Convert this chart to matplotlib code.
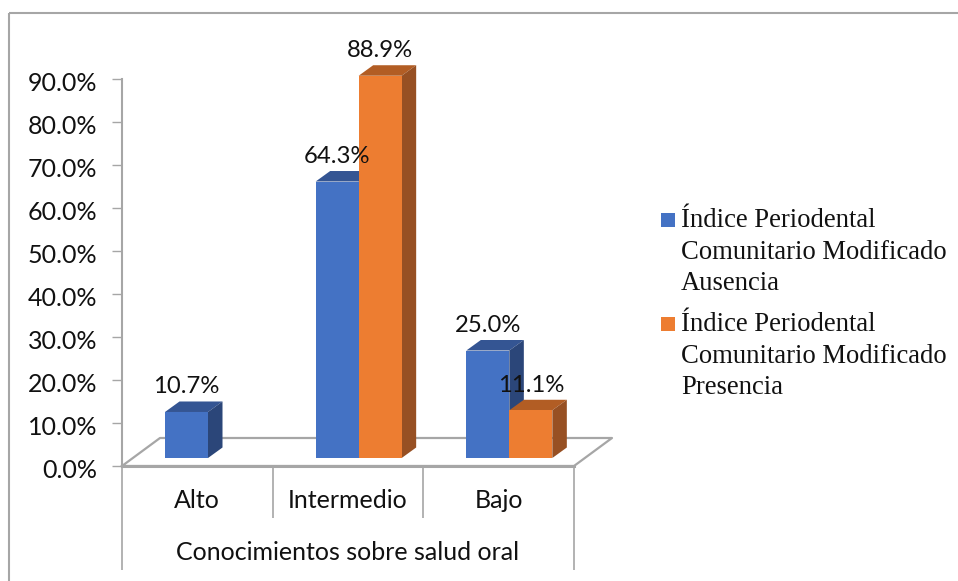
import matplotlib
matplotlib.use('Agg')
import matplotlib.pyplot as plt
from matplotlib.patches import Polygon, Rectangle
from matplotlib.lines import Line2D
from matplotlib.transforms import ScaledTranslation

# Data
categories = ['Alto', 'Intermedio', 'Bajo']
axis_title = 'Conocimientos sobre salud oral'
series_names = ['Índice Periodental\nComunitario Modificado\nAusencia',
                'Índice Periodental\nComunitario Modificado\nPresencia']
ausencia = [10.7, 64.3, 25.0]
presencia = [0, 88.9, 11.1]
y_ticks = [0, 10, 20, 30, 40, 50, 60, 70, 80, 90]

W, H = 958, 581
GREY = '#a6a6a6'
TEXT = '#111111'
front_colors = ['#4472c4', '#ed7d31']
top_colors = ['#345593', '#b25d24']
side_colors = ['#2b4679', '#975023']
SANS = 'Lato'
SERIF = 'Liberation Serif'

fig = plt.figure(figsize=(W / 100, H / 100), dpi=100)

# Axes box in pixels: left 122, right 574, y=0 at 466, y=90 at 79
ax = fig.add_axes([122 / W, 1 - 466 / H, (574 - 122) / W, (466 - 79) / H])
ax.set_xlim(0, 3)
ax.set_ylim(0, 90)
ax.patch.set_visible(False)
for s in ['top', 'right', 'bottom']:
    ax.spines[s].set_visible(False)
ax.spines['left'].set_color(GREY)
ax.spines['left'].set_linewidth(1.5)

px_x = 3 / 452  # one pixel in x data units
px_y = 90 / 387  # one pixel in y data units
depth_x = 14.5 * px_x
depth_y = 10.5 * px_y
base = 8 * px_y
bar_w = 43 * px_x


def pline(xs, ys, lw=1.5):
    # grey line given in figure pixels
    fig.add_artist(Line2D([x / W for x in xs], [1 - y / H for y in ys],
                          color=GREY, lw=lw, solid_capstyle='butt'))


# Outer frame, only top and left are visible
pline([8.5, 958], [13, 13], 1.5)
pline([9, 9], [13, 581], 1.5)

# Floor of the 3D chart
ax.plot([0, 38 * px_x, 3 + 38 * px_x, 3, 0],
        [0, 28 * px_y, 28 * px_y, 0, 0], color=GREY, lw=1.6, clip_on=False, zorder=1)
ax.plot([0, 3], [0, 0], color=GREY, lw=2.2, clip_on=False, zorder=1)

# Category separators below the axis
for i in range(4):
    bottom = 570 if i in (0, 3) else 518
    x = 122 + i * 452 / 3
    pline([x, x], [466, bottom], 1.2)

ax.set_yticks(y_ticks)
ax.set_yticklabels([f'{v:.1f}%' for v in y_ticks], fontsize=18, family=SANS, color=TEXT)
ax.tick_params(axis='y', length=7, width=1.0, color=GREY, pad=11)
ax.set_xticks([])

# tick labels sit a little below their ticks in the reference
shift = ScaledTranslation(0, -2.5 / 100, fig.dpi_scale_trans)
for label in ax.get_yticklabels():
    label.set_transform(label.get_transform() + shift)

for i, cat in enumerate(categories):
    fig.text((122 + (i + 0.5) * 452 / 3) / W, 1 - 501 / H, cat, fontsize=18, family=SANS,
             ha='center', va='center', color=TEXT)
fig.text(348 / W, 1 - 553 / H, axis_title, fontsize=18, family=SANS,
         ha='center', va='center', color=TEXT)

# Bars
group_offset = 43 * px_x
for n, values in enumerate([ausencia, presencia]):
    for i, v in enumerate(values):
        if v == 0:
            continue
        x0 = i + (165 - 122) * px_x + n * group_offset
        x1 = x0 + bar_w
        top = base + v
        z = 3 + n
        ax.bar(x0, v, width=bar_w, bottom=base, align='edge', color=front_colors[n],
               clip_on=False, zorder=z + 0.2)
        ax.add_patch(Polygon([(x0, top), (x1, top), (x1 + depth_x, top + depth_y),
                              (x0 + depth_x, top + depth_y)],
                             color=top_colors[n], lw=0, clip_on=False, zorder=z))
        ax.add_patch(Polygon([(x1, base), (x1, top), (x1 + depth_x, top + depth_y),
                              (x1 + depth_x, base + depth_y)],
                             color=side_colors[n], lw=0, clip_on=False, zorder=z))
        ax.text((x0 + x1) / 2, top + 25 * px_y, f'{v:.1f}%', fontsize=17.2, family=SANS,
                ha='center', va='center', color=TEXT, clip_on=False, zorder=10)

# Legend, drawn by hand so the square sits at the first line of text
for n, name in enumerate(series_names):
    sq_top = 213 + n * 104
    fig.add_artist(Rectangle((661 / W, 1 - (sq_top + 14) / H), 14 / W, 14 / H,
                             color=front_colors[n], lw=0, transform=fig.transFigure))
    fig.text(681 / W, 1 - (290 + n * 104) / H, name, fontsize=19.2, family=SERIF,
             va='baseline', ha='left', color=TEXT, linespacing=1.33)

fig.savefig('out.png', dpi=100)
